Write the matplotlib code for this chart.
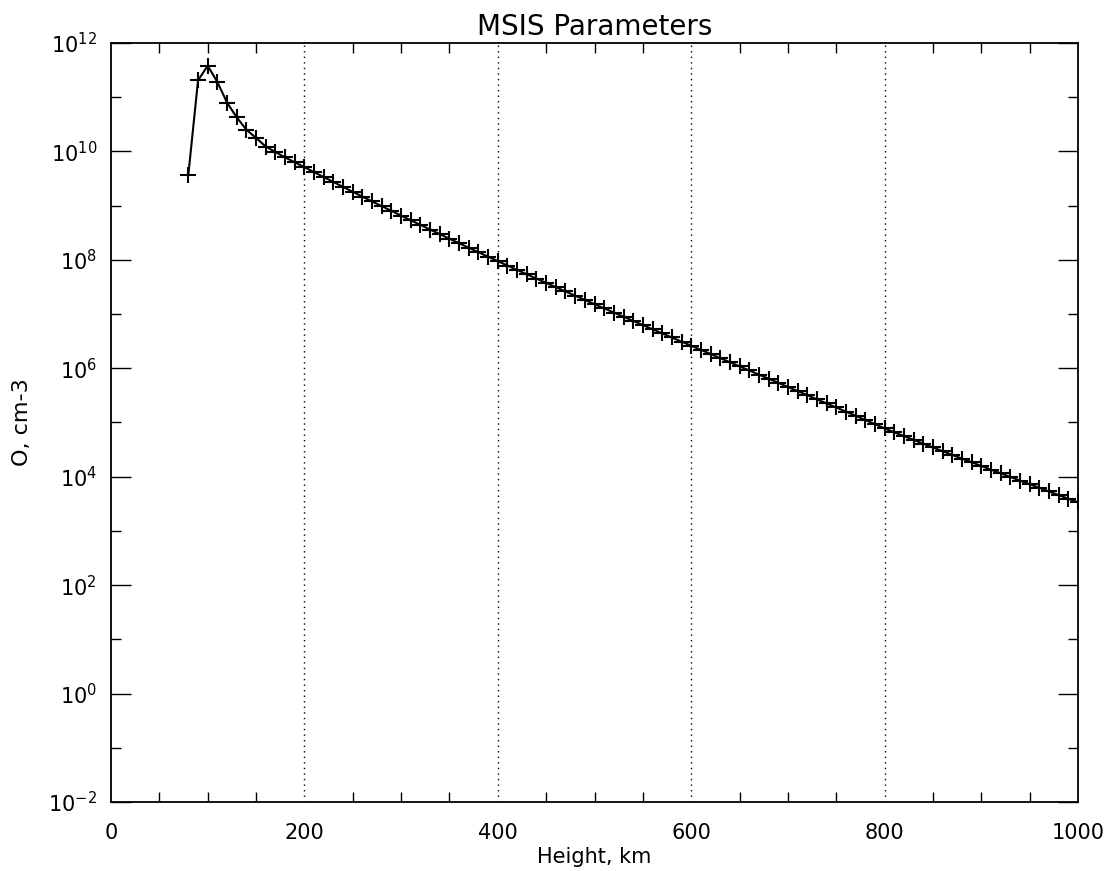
import numpy as np
import matplotlib
matplotlib.use("Agg")
import matplotlib.pyplot as plt
from matplotlib.ticker import FixedLocator, FuncFormatter, NullFormatter

# Data (height in km, log10 of O density in cm^-3)
heights_km = list(range(80, 1001, 10))
log_density = [
    9.57, 11.31, 11.58, 11.28, 10.90, 10.63, 10.40, 10.25, 10.09, 9.99,
    9.89, 9.80, 9.710, 9.618, 9.527, 9.436, 9.345, 9.255, 9.166, 9.078,
    8.990, 8.903, 8.816, 8.730, 8.644, 8.559, 8.474, 8.390, 8.306, 8.223,
    8.140, 8.058, 7.976, 7.895, 7.814, 7.734, 7.654, 7.575, 7.496, 7.417,
    7.339, 7.261, 7.183, 7.105, 7.028, 6.951, 6.874, 6.797, 6.720, 6.644,
    6.568, 6.492, 6.416, 6.340, 6.264, 6.188, 6.112, 6.036, 5.960, 5.884,
    5.808, 5.732, 5.656, 5.580, 5.504, 5.428, 5.352, 5.277, 5.200, 5.124,
    5.047, 4.969, 4.891, 4.819, 4.749, 4.679, 4.609, 4.540, 4.471, 4.402,
    4.334, 4.266, 4.198, 4.130, 4.063, 3.996, 3.929, 3.862, 3.795, 3.728,
    3.661, 3.594, 3.527,
]
density = [10 ** v for v in log_density]

x_major = [0, 200, 400, 600, 800, 1000]
x_grid = [200, 400, 600, 800]
y_major_exp = [-2, 0, 2, 4, 6, 8, 10, 12]
y_minor_exp = [-1, 1, 3, 5, 7, 9, 11]

plt.rcParams['font.family'] = ['DejaVu Sans']
plt.rcParams['mathtext.fontset'] = 'dejavusans'

fig = plt.figure(figsize=(11.19, 8.71), dpi=100)
ax = fig.add_axes([111/1119, 1 - 802/871, (1078-111)/1119, (802-43)/871])

ax.plot(heights_km, density, color='black', lw=1.5, marker='+',
        markersize=11, markeredgewidth=1.5, clip_on=True)

ax.set_yscale('log')
ax.set_xlim(0, 1000)
ax.set_ylim(1e-2, 1e12)

for g in x_grid:
    ax.axvline(g, color='black', lw=1.0, linestyle=(0, (1, 3)))

ax.xaxis.set_major_locator(FixedLocator(x_major))
ax.xaxis.set_minor_locator(FixedLocator(list(range(0, 1001, 50))))
ax.xaxis.set_major_formatter(FuncFormatter(lambda v, p: f"{int(v)}"))
ax.xaxis.set_minor_formatter(NullFormatter())
ax.yaxis.set_major_locator(FixedLocator([10.0 ** e for e in y_major_exp]))
ax.yaxis.set_minor_locator(FixedLocator([10.0 ** e for e in y_minor_exp]))
ax.yaxis.set_major_formatter(FuncFormatter(
    lambda v, p: r"$10^{%d}$" % int(round(np.log10(v)))))
ax.yaxis.set_minor_formatter(NullFormatter())

ax.tick_params(axis='x', which='major', length=0, pad=15, labelsize=15,
               top=True, direction='in')
ax.tick_params(axis='x', which='minor', length=7.5, width=1.0, top=True,
               direction='in')
ax.tick_params(axis='y', which='major', length=14.5, width=1.0, right=True,
               direction='in', pad=10, labelsize=15)
ax.tick_params(axis='y', which='minor', length=7.5, width=1.0, right=True,
               direction='in')

for s in ax.spines.values():
    s.set_linewidth(1.3)

ax.set_title("MSIS Parameters", fontsize=20, pad=6)
ax.set_xlabel("Height, km", fontsize=15, labelpad=3)
ax.set_ylabel("O, cm-3", fontsize=16, labelpad=12)

fig.savefig("out.png", dpi=100)
